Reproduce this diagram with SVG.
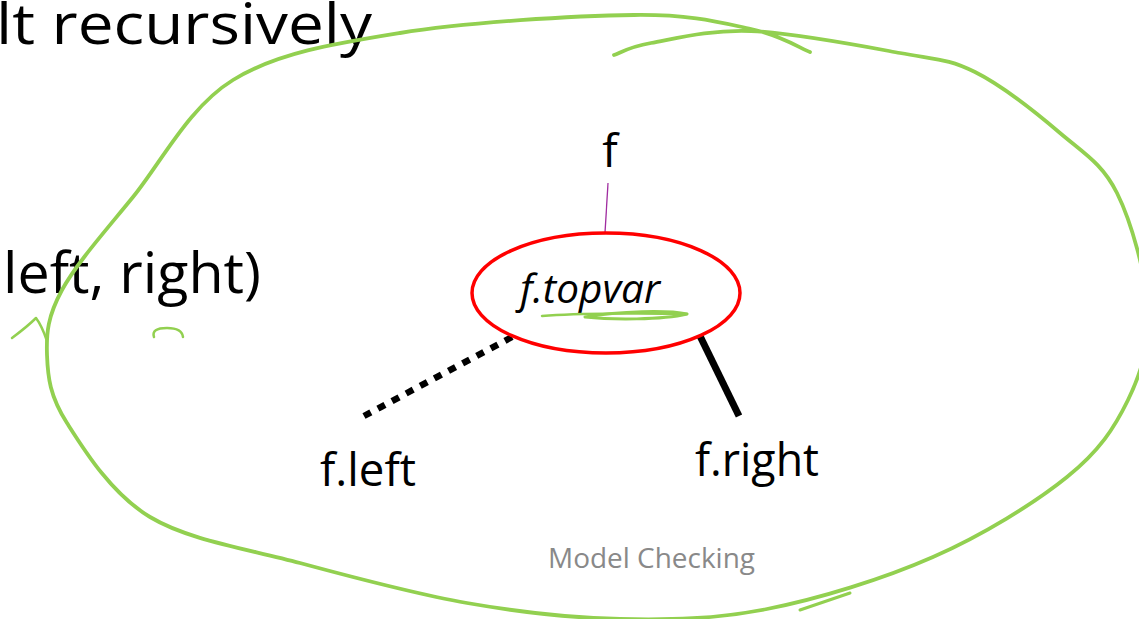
<svg xmlns="http://www.w3.org/2000/svg" width="1139" height="619" viewBox="0 0 1139 619">
<style>
  .txt { font-family: "Open Sans", "Liberation Sans", sans-serif; fill: #000; }
  .big { font-size: 57px; }
  .lbl { font-size: 46px; }
  .ink { fill: none; stroke: #92D050; stroke-linecap: round; stroke-linejoin: round; }
</style>
<rect width="1139" height="619" fill="#fff"/>
<g id="slide-text">
  <text class="txt big" x="-4" y="44" textLength="376" lengthAdjust="spacingAndGlyphs">lt recursively</text>
  <text class="txt big" x="3" y="293" textLength="258" lengthAdjust="spacingAndGlyphs">left, right)</text>
  <text x="548" y="568" font-family="'Open Sans', 'Liberation Sans', sans-serif" font-size="27" fill="#898989" textLength="207" lengthAdjust="spacingAndGlyphs">Model Checking</text>
</g>
<g id="connectors">
  <line x1="608" y1="183" x2="605" y2="233" stroke="#A02CA0" stroke-width="1.3"/>
  <line x1="512" y1="337" x2="364" y2="416" stroke="#000" stroke-width="6.5" stroke-dasharray="8 8"/>
  <line x1="700" y1="336" x2="739" y2="416" stroke="#000" stroke-width="7"/>
</g>
<g id="node-f">
  <text class="txt lbl" x="610" y="167" text-anchor="middle">f</text>
</g>
<g id="node-topvar">
  <ellipse cx="606" cy="293" rx="134" ry="60" fill="none" stroke="#FF0000" stroke-width="3.5"/>
  <text class="txt" x="520" y="303" font-size="40" font-style="italic" textLength="140" lengthAdjust="spacingAndGlyphs">f.topvar</text>
</g>
<g id="node-left">
  <text class="txt lbl" x="320" y="486" textLength="96" lengthAdjust="spacingAndGlyphs">f.left</text>
</g>
<g id="node-right">
  <text class="txt lbl" x="695" y="476" textLength="124" lengthAdjust="spacingAndGlyphs">f.right</text>
</g>
<g id="annotations">
  <path class="ink" stroke-width="3.8" d="M810,52 C800.2,48.2 780.3,35.2 751,29 C721.7,22.8 692.5,14.3 634,15 C575.5,15.7 466.8,22.2 400,33 C333.2,43.8 277.5,52.7 233,80 C188.5,107.3 161.5,162 133,197 C104.5,232 76.3,263.7 62,290 C47.7,316.3 46.2,332.8 47,355 C47.8,377.2 49.8,396 67,423 C84.2,450 111.2,493.7 150,517 C188.8,540.3 247.2,548.7 300,563 C352.8,577.3 413.7,593.7 467,603 C520.3,612.3 570,618 620,619 C670,620 714.8,619.3 767,609 C819.2,598.7 883,579 933,557 C983,535 1034.5,503.2 1067,477 C1099.5,450.8 1114.5,427.8 1128,400 C1141.5,372.2 1149.8,344.5 1148,310 C1146.2,275.5 1131.7,222.5 1117,193 C1102.3,163.5 1083.7,153.2 1060,133 C1036.3,112.8 1001.7,85.3 975,72 C948.3,58.7 937.3,59.8 900,53 C862.7,46.2 792.5,32.7 751,31 C709.5,29.3 673.8,39 651,43 C628.2,47 620.2,53 614,55"/>
  <path class="ink" stroke-width="3" d="M800,610 L850,593"/>
  <path class="ink" stroke-width="2.5" d="M12,338 Q28,326 36,318 Q42,326 47,341"/>
  <path class="ink" stroke-width="2.5" d="M154,337 Q151,328 167,328 Q182,328 183,337"/>
  <path class="ink" stroke-width="2.5" d="M542,316 C580,313 650,313 687,314"/>
  <path class="ink" stroke-width="3" d="M585,317 C620,311 668,310 687,314 C662,320 612,320 585,317"/>
</g>
</svg>
